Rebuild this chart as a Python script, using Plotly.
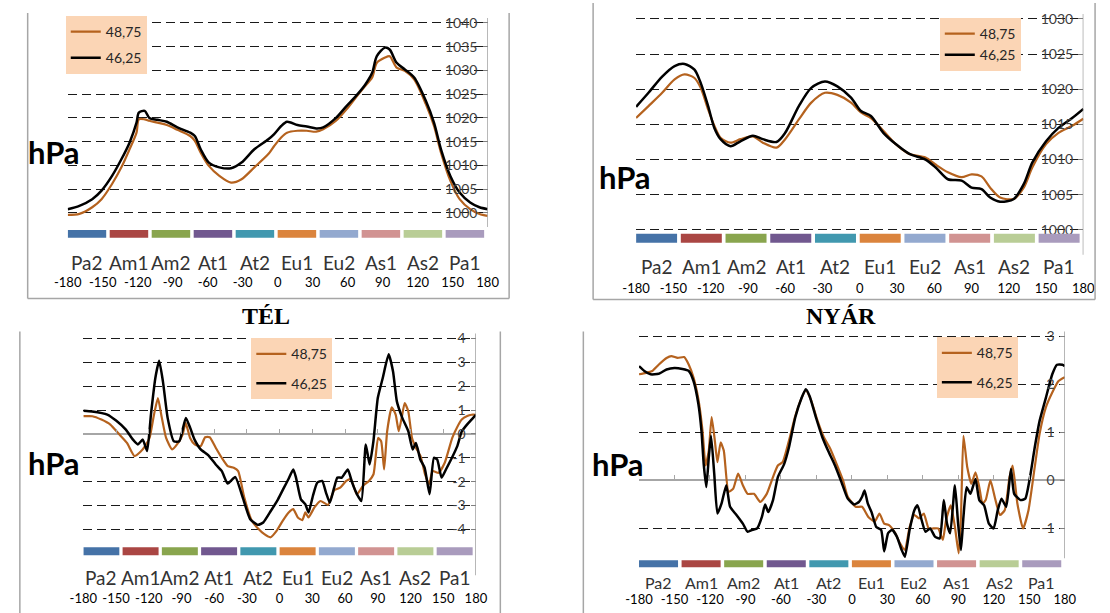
import plotly.graph_objects as go

W, H = 1110, 613

# ------------------------------------------------------------------ data
regions = ["Pa2", "Am1", "Am2", "At1", "At2", "Eu1", "Eu2", "As1", "As2", "Pa1"]
region_colors = ["#4572A7", "#AA4643", "#89A54E", "#71588F", "#4198AF",
                 "#DB843D", "#93A9CF", "#D19392", "#B9CD96", "#A99BBD"]
lon_ticks = list(range(-180, 181, 30))
series_names = ["48,75", "46,25"]

# top-left panel (mean SLP, hPa)
p1_lon = [-180, -170, -159, -151, -142, -134, -127, -121, -119, -114,
          -110, -103, -95, -86, -75, -71, -66, -59, -50, -40,
          -31, -20, -8, -3, 3, 8, 17, 25, 33, 39,
          50, 59, 67, 75, 81, 85, 92, 96, 102, 109,
          117, 127, 134, 140, 148, 156, 165, 173, 180]
p1_4875 = [999.6, 999.8, 1001.2, 1002.9, 1006.1, 1009.6, 1013.4, 1016.9, 1019.7, 1019.7,
           1019.4, 1019.0, 1018.5, 1017.5, 1016.2, 1015.2, 1012.7, 1009.9, 1007.8, 1006.4,
           1007.1, 1009.6, 1012.4, 1014.1, 1015.9, 1016.9, 1017.3, 1017.3, 1017.1, 1017.6,
           1019.4, 1021.8, 1024.3, 1026.7, 1028.5, 1031.6, 1032.7, 1033.0, 1030.6, 1029.9,
           1028.1, 1022.9, 1018.3, 1012.7, 1006.8, 1002.9, 1000.8, 999.8, 999.4]
p1_4625 = [1000.8, 1001.5, 1002.9, 1004.7, 1007.8, 1011.3, 1014.8, 1019.0, 1021.1, 1021.5,
           1020.0, 1019.6, 1019.2, 1018.0, 1016.9, 1016.2, 1013.4, 1010.6, 1009.6, 1009.4,
           1010.6, 1013.4, 1015.5, 1016.6, 1018.3, 1019.2, 1018.5, 1018.2, 1017.8, 1018.0,
           1020.0, 1022.5, 1024.6, 1027.0, 1029.5, 1033.0, 1034.8, 1034.4, 1031.6, 1030.2,
           1028.5, 1023.6, 1019.0, 1013.4, 1007.8, 1004.3, 1002.2, 1001.2, 1000.8]

# top-right panel (mean SLP, hPa)
p2_lon = [-180, -170, -159, -149, -141, -133, -128, -122, -117, -112,
          -104, -96, -86, -78, -67, -60, -49, -39, -28, -18,
          -7, 1, 9, 19, 29, 40, 53, 61, 71, 82,
          90, 98, 105, 113, 124, 132, 139, 150, 160, 171, 180]
p2_4875 = [1015.9, 1017.6, 1019.5, 1021.4, 1022.1, 1021.6, 1020.2, 1017.1, 1014.8, 1013.1,
           1012.4, 1012.9, 1013.3, 1012.4, 1011.7, 1012.9, 1015.7, 1018.1, 1019.5, 1019.2,
           1018.1, 1016.7, 1015.9, 1014.1, 1012.2, 1010.8, 1010.3, 1009.3, 1008.2, 1007.5,
           1007.9, 1007.6, 1006.0, 1004.6, 1004.4, 1006.0, 1008.9, 1012.2, 1013.8, 1014.8, 1015.8]
p2_4625 = [1017.5, 1019.5, 1021.8, 1023.3, 1023.6, 1022.8, 1020.9, 1017.6, 1014.5, 1012.9,
           1011.9, 1012.6, 1013.4, 1012.9, 1012.5, 1013.8, 1017.6, 1020.2, 1021.1, 1020.4,
           1018.8, 1016.9, 1016.2, 1013.8, 1012.2, 1010.8, 1010.0, 1008.9, 1007.2, 1007.0,
           1006.0, 1005.8, 1004.6, 1004.0, 1004.4, 1006.5, 1009.6, 1012.6, 1014.5, 1015.9, 1017.2]

# bottom-left panel: TÉL (hPa anomaly)
p3_lon_4875 = [-180, -171.7, -163.4, -155.2, -146.9, -140, -133.1, -127.6, -123.4, -119.3,
               -115.2, -111.6, -108.3, -104.1, -98.6, -93.1, -89, -86.2, -82.1, -77.9,
               -72.4, -68.3, -64.1, -58.6, -53.1, -47.6, -42.1, -38, -32.4, -25.5,
               -20, -14, -8.3, -2.8, 2.8, 8.3, 12.5, 16.7, 20.8, 23.6,
               26.4, 31.9, 37.5, 44.4, 50, 55.6, 61.1, 65.3, 70.8, 76.4,
               81.9, 86.1, 90.3, 93.1, 95.8, 98.6, 102.8, 106.4, 109.2, 111.9,
               114.7, 118, 121.4, 125, 129.2, 133.3, 137, 140.3, 145.8, 151.4,
               158.3, 163, 167, 172, 176, 180]
p3_4875 = [0.74, 0.74, 0.6, 0.39, -0.03, -0.38, -0.93, -0.75, -0.51, -0.17,
           0.81, 1.5, 0.74, -0.17, -0.65, -0.38, -0.03, 0.46, -0.17, -0.44,
           -0.51, -0.14, -0.14, -0.58, -1.0, -1.35, -1.42, -1.56, -2.67, -3.64,
           -3.95, -4.2, -4.33, -4.06, -3.64, -3.29, -3.15, -3.5, -3.61, -3.29,
           -3.5, -3.08, -2.81, -2.97, -2.36, -2.25, -1.97, -1.9, -2.53, -2.18,
           -1.97, -1.69, -0.17, -0.31, -1.49, 0.11, 1.11, 0.81, 0.11, 0.67,
           1.29, 0.94, -0.17, -0.58, -0.93, -1.69, -2.1, -1.56, -1.63, -1.21,
           -0.17, 0.3, 0.6, 0.75, 0.8, 0.8]
p3_lon_4625 = [-180, -172, -158, -150, -141, -134.5, -130, -125.5, -121.5, -118,
               -114, -110.5, -107, -102.7, -97, -92, -86, -82, -78, -72.4,
               -65.5, -58.6, -53, -47.6, -40.7, -33.8, -27, -20, -15, -8,
               -1.5, 4, 8, 12.5, 15, 19.5, 23.5, 26.5, 30.5, 34.5,
               39, 42.5, 46, 50, 53, 57, 62.5, 66.5, 71, 75,
               79, 82.5, 86, 90, 94.5, 100, 104, 107.5, 112.5, 118,
               122, 125, 129, 133, 137.5, 141.5, 144.5, 148.5, 152.5, 158,
               163, 167, 172, 176, 180]
p3_4625 = [0.97, 0.94, 0.81, 0.56, 0.18, -0.24, -0.44, -0.24, -0.72, 0.81,
           2.33, 3.06, 2.19, 0.67, -0.31, -0.31, 0.67, 0.25, -0.24, -0.65,
           -0.89, -1.28, -1.56, -2.08, -1.81, -2.67, -3.57, -3.81, -3.71, -3.22,
           -2.74, -2.25, -1.9, -1.49, -1.83, -2.74, -2.94, -3.29, -2.6, -2.04,
           -1.97, -2.46, -2.88, -2.25, -1.83, -1.83, -1.49, -2.04, -2.53, -2.81,
           -0.44, -1.28, -0.31, 1.5, 2.33, 3.33, 2.61, 1.36, 0.67, 0.11,
           -0.65, -0.38, -1.07, -1.42, -2.53, -1.0, -1.07, -1.83, -1.49, -1.0,
           -0.5, 0.1, 0.4, 0.6, 0.8]

# bottom-right panel: NYÁR (hPa anomaly)
p4_lon_4875 = [-180, -174.2, -168.8, -163.4, -156.7, -152.7, -147.3, -141.9, -137.9, -133.9,
               -129.8, -126.3, -123.7, -121, -118.6, -115.9, -113.7, -111, -108.3, -104.3,
               -100.3, -96.2, -92.2, -88.2, -82.8, -77.4, -72, -66.7, -62.6, -58.6,
               -53.2, -47.9, -42.5, -39, -34.4, -29, -23.7, -18.3, -12.9, -7.5,
               -3.5, 3.2, 8.6, 13.9, 19.3, 23.3, 27.3, 31.4, 36.7, 40.7,
               44.8, 48.8, 52.8, 56.8, 60.8, 64.9, 68.9, 72.9, 76.9, 79.6,
               83.6, 87.1, 90.3, 92.2, 94.3, 97.5, 101, 104.5, 107.7, 110.4,
               113.1, 117.1, 121.1, 125.2, 129.2, 133.3, 135.9, 139.9, 144.7, 149.3,
               154.6, 158.7, 164, 169.4, 174.7, 180]
p4_4875 = [2.21, 2.24, 2.28, 2.41, 2.55, 2.59, 2.55, 2.57, 2.41, 2.14,
           1.69, 1.03, 0.31, 0.62, 1.32, 0.83, 0.38, 0.79, 0.62, -0.24,
           -0.17, 0.14, -0.1, -0.28, -0.28, -0.45, -0.28, 0.07, 0.31, 0.38,
           0.83, 1.34, 1.72, 1.88, 1.66, 1.24, 0.9, 0.66, 0.34, 0.0,
           -0.34, -0.55, -0.55, -0.76, -0.86, -0.69, -0.9, -0.93, -1.1, -1.31,
           -1.45, -0.97, -0.72, -0.79, -0.69, -1.0, -1.0, -1.0, -1.24, -0.83,
           -0.52, -0.97, -1.52, -0.76, 0.93, 0.28, -0.07, 0.17, -0.14, -0.48,
           -0.41, 0.0, -0.38, -0.72, -0.62, 0.07, 0.31, -0.48, -1.0, -0.62,
           0.28, 0.97, 1.52, 1.83, 2.07, 2.15]
p4_lon_4625 = [-180, -175.5, -170.2, -163.4, -156.7, -150, -143.3, -137.9, -133.9, -129.8,
               -127.2, -125.3, -123.1, -121, -119.1, -116.4, -113.7, -110.2, -106.2, -103,
               -97.6, -92.2, -88.2, -84.1, -80.1, -76.1, -73.4, -70.7, -66.7, -62.6,
               -57.3, -53.2, -47.9, -42.5, -39, -35.8, -30.4, -25, -19.6, -14.3,
               -8.9, -3.5, 1.9, 5.9, 8.6, 10.7, 13.4, 16.6, 20.6, 24.7,
               27.3, 30.6, 34, 38, 42.1, 44.8, 48.8, 52.8, 55.5, 59,
               62.2, 66.2, 70.2, 74.2, 77.7, 80.4, 83.1, 87.1, 89.8, 92.2,
               94.3, 97, 100.2, 104.5, 107.7, 111.8, 115.8, 119.8, 123.3, 126.5,
               130.5, 134.5, 137.2, 142.6, 146.6, 150.6, 154.6, 158.7, 164, 169.4,
               173.4, 178, 180]
p4_4625 = [2.38, 2.28, 2.21, 2.22, 2.31, 2.34, 2.32, 2.28, 2.07, 1.59,
           1.03, 0.34, -0.14, 0.48, 0.93, 0.14, -0.69, -0.48, -0.1, -0.55,
           -0.72, -0.9, -1.07, -1.03, -1.0, -0.76, -0.5, -0.66, -0.41, 0.07,
           0.34, 0.69, 1.31, 1.72, 1.9, 1.76, 1.31, 0.9, 0.59, 0.31,
           -0.03, -0.38, -0.5, -0.45, -0.34, -0.21, -0.48, -0.66, -0.97, -1.03,
           -1.48, -1.1, -1.03, -1.17, -1.45, -1.59, -1.03, -0.62, -0.52, -0.83,
           -1.07, -1.0, -1.17, -1.21, -0.41, -0.9, -1.1, -0.1, -0.9, -1.45,
           -0.76, -0.14, -0.28, 0.03, -0.41, -0.52, -0.9, -1.0, -0.62, -0.38,
           -0.55, 0.24, -0.28, -0.41, -0.38, 0.07, 0.69, 1.24, 1.72, 2.21,
           2.41, 2.41, 2.38]

p1_yticks = [1000, 1005, 1010, 1015, 1020, 1025, 1030, 1035, 1040]
p2_yticks = [1000, 1005, 1010, 1015, 1020, 1025, 1030]
p3_yticks = [-4, -3, -2, -1, 0, 1, 2, 3, 4]
p4_yticks = [-1, 0, 1, 2, 3]

# ------------------------------------------------------------------ styles / layout geometry (pixels)
BROWN = "#B5621E"
BLACK = "#000000"
PEACH = "#FBD5B5"
FRAME = "#A6A6A6"
FONT = "Lato, 'Open Sans', sans-serif"

panels = [
    dict(lon=(p1_lon, p1_lon), val=(p1_4875, p1_4625), yticks=p1_yticks,
         xpx=(55, 485), top=(1040, 20), bot=(1000, 211), T=13, B=271,
         strip=(228, 236), cat_y=261, cat_size=19, axis_bot=225, hpa=(41, 150),
         leg=(53, 13), gap=5, zero=False, title=None, smooth=0.8),
    dict(lon=(p2_lon, p2_lon), val=(p2_4875, p2_4625), yticks=p2_yticks,
         xpx=(637, 1095), top=(1030, 16), bot=(1000, 228), T=10, B=277,
         strip=(232, 241), cat_y=265, cat_size=19, axis_bot=253, hpa=(626, 175),
         leg=(948, 15), gap=0, zero=False, title=None, smooth=0.8),
    dict(lon=(p3_lon_4875, p3_lon_4625), val=(p3_4875, p3_4625), yticks=p3_yticks,
         xpx=(71, 473), top=(4, 337), bot=(-4, 529), T=331, B=589,
         strip=(547, 555), cat_y=577, cat_size=19, axis_bot=575, hpa=(41, 462),
         leg=(243, 337), gap=8, zero=True, title=("TÉL", 258, 315), smooth=0.5),
    dict(lon=(p4_lon_4875, p4_lon_4625), val=(p4_4875, p4_4625), yticks=p4_yticks,
         xpx=(640, 1076), top=(3, 335), bot=(-1, 528), T=329, B=590,
         strip=(560, 567), cat_y=582, cat_size=16, axis_bot=558, hpa=(618, 463),
         leg=(945, 336), gap=8, zero=True, title=("NYÁR", 847, 315), smooth=0.5),
]

frames = [  # (x0, y0, x1, y1) pixel lines
    (14, 10, 14, 297), (14, 297, 507, 297), (507, 10, 507, 297),
    (593, 0, 593, 298), (593, 298, 1107, 298), (1107, 0, 1107, 298),
    (6, 330, 6, 613), (498, 330, 498, 613),
    (583, 330, 583, 613),
]


def py(px):
    return 1 - px / H


fig = go.Figure()
layout = dict(width=W, height=H, autosize=False,
              margin=dict(l=0, r=0, t=0, b=0),
              paper_bgcolor="white", plot_bgcolor="white",
              font=dict(family=FONT, color="#000"),
              shapes=[], annotations=[])

extra_axis = 5
for k, p in enumerate(panels, start=1):
    xs = "" if k == 1 else str(k)
    xname, yname = "x" + xs, "y" + xs
    legname = "legend" + xs
    # y scaling
    (vt, pt), (vb, pb) = p["top"], p["bot"]
    s = (pb - pt) / (vt - vb)
    ymax = vt + (pt - p["T"]) / s
    ymin = vb - (p["B"] - pb) / s

    for i, (name, color, width) in enumerate(zip(series_names, [BROWN, BLACK], [2.2, 2.5])):
        fig.add_trace(go.Scatter(
            x=p["lon"][i], y=p["val"][i], mode="lines", name=name,
            line=dict(color=color, width=width, shape="spline", smoothing=p["smooth"]),
            xaxis=xname, yaxis=yname, legend=legname,
            legendgroup=f"g{k}{i}", hoverinfo="x+y"))

    layout["xaxis" + xs] = dict(
        domain=[p["xpx"][0] / W, p["xpx"][1] / W], range=[-180, 180], anchor=yname,
        tickmode="array", tickvals=lon_ticks, ticktext=[str(v) for v in lon_ticks],
        ticks="", showgrid=False, zeroline=False, showline=False,
        tickfont=dict(family=FONT, size=13, color="#000"), fixedrange=True)
    layout["yaxis" + xs] = dict(
        domain=[py(p["B"]), py(p["T"])], range=[ymin, ymax], anchor=xname, side="right",
        tickmode="array", tickvals=p["yticks"], ticktext=[str(v) for v in p["yticks"]],
        ticks="inside", ticklen=5,
        tickcolor="#7F7F7F", tickwidth=1, ticklabelposition="inside",
        ticklabelstandoff=5, ticklabeloverflow="allow",
        tickfont=dict(family=FONT, size=14, color="#404040"),
        showgrid=True, gridcolor="#1A1A1A", gridwidth=1.4, griddash="9px,5px",
        zeroline=p["zero"], zerolinecolor="#A6A6A6", zerolinewidth=1.6,
        showline=False, fixedrange=True)
    layout[legname] = dict(
        x=p["leg"][0] / W, y=py(p["leg"][1]), xanchor="left", yanchor="top",
        bgcolor=PEACH, borderwidth=0, tracegroupgap=p["gap"],
        font=dict(family=FONT, size=14, color="#262626"), itemwidth=30)

    # y axis line on the right
    layout["shapes"].append(dict(type="line", xref=xname, yref="paper",
                                 x0=180, x1=180, y0=py(p["axis_bot"]), y1=py(pt - 5),
                                 line=dict(color="#8C8C8C", width=1.2)))
    # region colour strip
    for i, col in enumerate(region_colors):
        x0 = -180 + 36 * i
        layout["shapes"].append(dict(type="rect", xref=xname, yref="paper",
                                     x0=x0, x1=x0 + 33, y0=py(p["strip"][1]), y1=py(p["strip"][0]),
                                     fillcolor=col, line=dict(width=0), layer="above"))
        layout["annotations"].append(dict(
            x=x0 + 16.5, y=py(p["cat_y"]), xref=xname, yref="paper", text=regions[i],
            showarrow=False, xanchor="center", yanchor="middle",
            font=dict(family=FONT, size=p["cat_size"], color="#333333")))
    # hPa label
    layout["annotations"].append(dict(
        x=p["hpa"][0] / W, y=py(p["hpa"][1]), xref="paper", yref="paper",
        text="<b>hPa</b>", showarrow=False, xanchor="center", yanchor="middle",
        font=dict(family=FONT, size=31, color="#000")))
    if p["title"]:
        t, tx, ty = p["title"]
        layout["annotations"].append(dict(
            x=tx / W, y=py(ty), xref="paper", yref="paper", text=f"<b>{t}</b>",
            showarrow=False, xanchor="center", yanchor="middle",
            font=dict(family="'Liberation Serif', 'Times New Roman', serif", size=24, color="#000")))
    if p["zero"]:
        # tick marks sitting on the zero line
        ax = "xaxis" + str(extra_axis)
        zero_px = pt + vt * s
        layout[ax] = dict(overlaying=xname, anchor="free", position=py(zero_px),
                          range=[-180, 180], tickmode="array", tickvals=lon_ticks,
                          ticks="inside", ticklen=5, tickwidth=1, tickcolor="#A6A6A6",
                          showticklabels=False, showgrid=False, zeroline=False,
                          showline=False, fixedrange=True)
        fig.add_trace(go.Scatter(x=[None], y=[None], xaxis="x" + str(extra_axis), yaxis=yname,
                                 showlegend=False, hoverinfo="skip"))
        extra_axis += 1

for (x0, y0, x1, y1) in frames:
    layout["shapes"].append(dict(type="line", xref="paper", yref="paper",
                                 x0=x0 / W, x1=x1 / W, y0=py(y0), y1=py(y1),
                                 line=dict(color=FRAME, width=1.5)))

fig.update_layout(**layout)
fig.write_html("out.html", config={"displayModeBar": False},
               post_script="document.body.style.margin='0px';document.body.style.overflow='hidden';")
